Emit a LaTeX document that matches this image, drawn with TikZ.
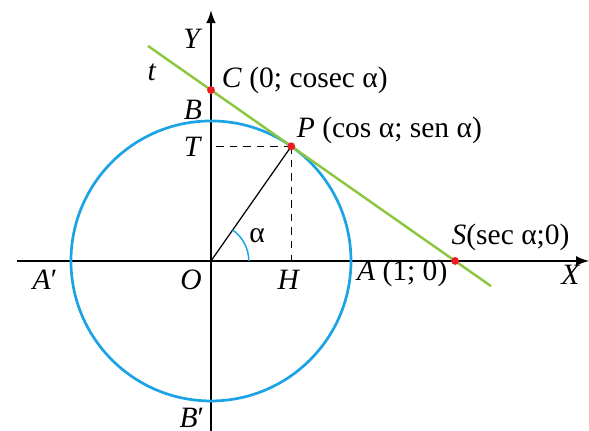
\documentclass[tikz,border=0pt]{standalone}
\usepackage{fontspec}
\setmainfont{Liberation Serif}
\definecolor{circblue}{RGB}{28,163,229}
\definecolor{tangreen}{RGB}{141,198,63}
\definecolor{ptred}{RGB}{237,28,36}
\tikzset{
  lbl/.style={font=\fontsize{12}{14}\selectfont,inner sep=0pt},
  dot/.style={fill=ptred,draw=none},
}
\begin{document}
\begin{tikzpicture}[x=2cm,y=2cm,>=latex]
\useasboundingbox (-1.507,-1.214) rectangle (2.7,1.864);

% Points
\coordinate (O) at (0,0);
\coordinate (P) at (55:1);
\coordinate (H) at (P |- O);
\coordinate (T) at (P -| O);
\coordinate (C) at (0,{1/sin(55)});
\coordinate (S) at ({1/cos(55)},0);
\coordinate (xl) at (-1.386,0);
\coordinate (xr) at (2.70,0);
\coordinate (yb) at (0,-1.214);
\coordinate (yt) at (0,1.79);
\coordinate (tl) at (-0.45,{(1+0.45*cos(55))/sin(55)});
\coordinate (tr) at (2.0,{(1-2.0*cos(55))/sin(55)});

% Axes
\draw[line width=0.8pt,->] (xl) -- (xr);
\draw[line width=0.8pt,->] (yb) -- (yt);

% Unit circle
\draw[circblue,line width=1.1pt] (O) circle (1);

% Radius and projections
\draw[line width=0.5pt] (O) -- (P);
\draw[line width=0.6pt,dash pattern=on 3pt off 2.5pt] (P) -- (H);
\draw[line width=0.6pt,dash pattern=on 3pt off 2.5pt] (P) -- (T);
\draw[circblue,line width=0.6pt] (0.27,0) arc (0:55:0.27);

% Tangent t
\draw[tangreen,line width=1pt] (tl) -- (tr);

% Marked points
\fill[dot] (C) circle (0.028);
\fill[dot] (P) circle (0.028);
\fill[dot] (S) circle (0.028);

% Labels
\node[lbl] (lY) at (-0.129,1.586) {\textit{Y}};
\node[lbl] (lX) at (2.571,-0.10) {\textit{X}};
\node[lbl] (lt) at (-0.421,1.35) {\textit{t}};
\node[lbl,anchor=west] (lC) at (0.075,1.29) {\textit{C} (0; cosec α)};
\node[lbl] (lB) at (-0.129,1.079) {\textit{B}};
\node[lbl] (lT) at (-0.129,0.814) {\textit{T}};
\node[lbl,anchor=west] (lP) at (0.61,0.93) {\textit{P} (cos α; sen α)};
\node[lbl,anchor=west] (lS) at (1.715,0.171) {\textit{S}(sec α;0)};
\node[lbl] (la) at (0.329,0.179) {α};
\node[lbl] (lO) at (-0.143,-0.136) {\textit{O}};
\node[lbl] (lH) at (0.557,-0.136) {\textit{H}};
\node[lbl,anchor=west] (lA) at (1.04,-0.088) {\textit{A} (1; 0)};
\node[lbl] (lA2) at (-1.186,-0.136) {\textit{A}′};
\node[lbl] (lB2) at (-0.136,-1.12) {\textit{B}′};

\end{tikzpicture}
\end{document}
